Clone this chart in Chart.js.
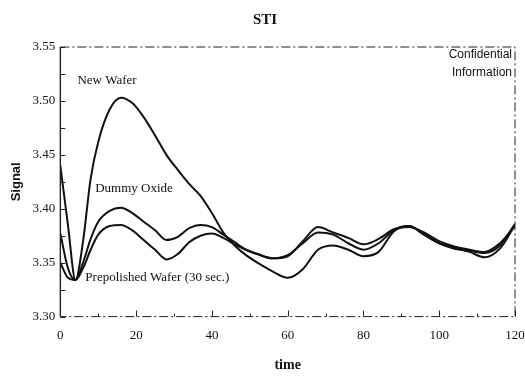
<!DOCTYPE html>
<html><head><meta charset="utf-8">
<script src="https://cdn.jsdelivr.net/npm/chart.js@4/dist/chart.umd.min.js"></script>
<style>html,body{margin:0;padding:0;background:#fff}#wrap{width:525px;height:382px}</style>
</head><body><div id="wrap"><canvas id="c"></canvas></div>
<script>
const times = [0,2,4,6,8,10,13,16,19,22,25,28,31,34,37,40,43,46,49,52,56,60,64,68,72,76,80,84,88,92,96,100,104,108,112,116,120];
const newWafer = [3.440,3.385,3.334,3.370,3.428,3.462,3.492,3.503,3.498,3.485,3.468,3.450,3.436,3.423,3.412,3.396,3.378,3.366,3.357,3.350,3.342,3.336,3.344,3.362,3.366,3.362,3.356,3.360,3.379,3.384,3.376,3.368,3.364,3.360,3.355,3.363,3.385];
const dummyOxide = [3.377,3.345,3.334,3.350,3.372,3.388,3.398,3.401,3.396,3.388,3.380,3.371,3.374,3.382,3.385,3.383,3.376,3.369,3.362,3.358,3.354,3.356,3.370,3.383,3.378,3.373,3.367,3.372,3.381,3.384,3.376,3.368,3.363,3.361,3.359,3.366,3.386];
const prepolished = [3.350,3.336,3.334,3.345,3.362,3.376,3.384,3.385,3.380,3.371,3.362,3.353,3.358,3.369,3.375,3.377,3.373,3.367,3.362,3.358,3.354,3.357,3.368,3.378,3.376,3.368,3.362,3.368,3.380,3.383,3.378,3.370,3.365,3.362,3.360,3.368,3.384];
const seriesNames = ["New Wafer","Dummy Oxide","Prepolished Wafer (30 sec.)"];
const xTicks = [0,20,40,60,80,100,120];
const yTicks = [3.30,3.35,3.40,3.45,3.50,3.55];

const serif = "'Liberation Serif', 'DejaVu Serif', serif";
function pts(v){ return times.map((t,i)=>({x:t,y:v[i]})); }
const ds = [newWafer,dummyOxide,prepolished].map((v,i)=>({
  label: seriesNames[i], data: pts(v), borderColor:'#111', borderWidth:2,
  pointRadius:0, fill:false, tension:0.4, cubicInterpolationMode:'monotone'
}));

const deco = {
  id:'deco',
  afterDraw(chart){
    const ctx = chart.ctx, a = chart.chartArea, xs = chart.scales.x, ys = chart.scales.y;
    ctx.save();
    ctx.strokeStyle = '#222';
    ctx.lineWidth = 1.4; ctx.setLineDash([]);
    ctx.beginPath(); ctx.moveTo(a.left, a.top); ctx.lineTo(a.left, a.bottom); ctx.stroke();
    ctx.lineWidth = 1; ctx.setLineDash([9,3,2,3]);
    ctx.beginPath(); ctx.moveTo(a.left, a.top); ctx.lineTo(a.right, a.top); ctx.lineTo(a.right, a.bottom); ctx.lineTo(a.left, a.bottom); ctx.stroke();
    ctx.setLineDash([]);
    ctx.lineWidth = 1;
    for (let v = 3.30; v <= 3.5501; v += 0.025) {
      const y = Math.round(ys.getPixelForValue(v)) + 0.5;
      ctx.beginPath(); ctx.moveTo(a.left, y); ctx.lineTo(a.left + 5, y); ctx.stroke();
    }
    for (let v = 0; v <= 120; v += 10) {
      const x = Math.round(xs.getPixelForValue(v)) + 0.5;
      const len = (v % 20 === 0) ? 6 : 3;
      ctx.beginPath(); ctx.moveTo(x, a.bottom); ctx.lineTo(x, a.bottom - len); ctx.stroke();
    }
    ctx.fillStyle = '#111';
    ctx.font = "13px " + serif;
    ctx.textBaseline = 'middle'; ctx.textAlign = 'left';
    ctx.fillText(seriesNames[0], xs.getPixelForValue(4.5), ys.getPixelForValue(3.519));
    ctx.fillText(seriesNames[1], xs.getPixelForValue(9.2), ys.getPixelForValue(3.419));
    ctx.fillText(seriesNames[2], xs.getPixelForValue(6.6), ys.getPixelForValue(3.336));
    ctx.font = "12px 'Liberation Sans', 'DejaVu Sans', sans-serif";
    ctx.textAlign = 'right';
    ctx.fillText('Confidential', a.right - 3, ys.getPixelForValue(3.5426));
    ctx.fillText('Information', a.right - 3, ys.getPixelForValue(3.5258));
    ctx.restore();
  }
};

new Chart(document.getElementById('c'), {
  type:'line',
  data:{ datasets: ds },
  options:{
    responsive:true, maintainAspectRatio:false, animation:false,
    layout:{ padding:{ left:5, right:0, top:0, bottom:4 } },
    plugins:{
      legend:{display:false}, tooltip:{enabled:false},
      title:{ display:true, text:'STI', color:'#111', font:{family:serif, size:15, weight:'bold'}, padding:{top:11,bottom:18} }
    },
    scales:{
      x:{ type:'linear', min:0, max:120,
        afterBuildTicks(s){ s.ticks = xTicks.map(v=>({value:v})); },
        afterFit(s){ s.paddingRight = 10; },
        grid:{ display:false, drawTicks:false }, border:{ display:false },
        ticks:{ color:'#111', font:{family:serif, size:13}, padding:11 },
        title:{ display:true, text:'time', color:'#111', font:{family:serif, size:14, weight:'bold'}, padding:{top:3} }
      },
      y:{ type:'linear', min:3.30, max:3.55,
        afterBuildTicks(s){ s.ticks = yTicks.map(v=>({value:v})); },
        grid:{ display:false, drawTicks:false }, border:{ display:false },
        ticks:{ color:'#111', font:{family:serif, size:13}, padding:5, callback:v=>v.toFixed(2) },
        title:{ display:true, text:'Signal', color:'#111', font:{family:"'Liberation Sans', sans-serif", size:13, weight:'bold'}, padding:{bottom:3} }
      }
    }
  },
  plugins:[deco]
});
</script>
</body></html>
